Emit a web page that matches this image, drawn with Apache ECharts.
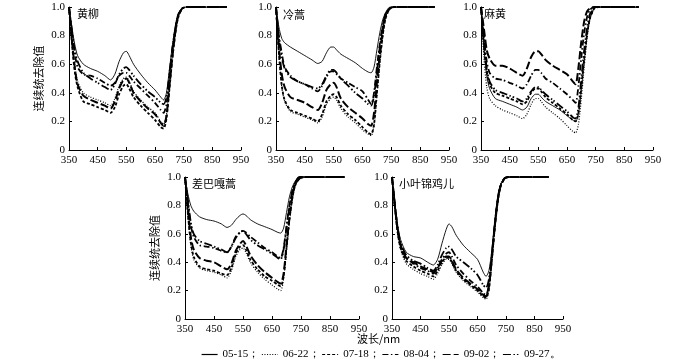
<!DOCTYPE html>
<html>
<head>
<meta charset="utf-8">
<script src="https://cdn.jsdelivr.net/npm/echarts@6/dist/echarts.min.js"></script>
<style>
  html, body { margin: 0; background: #fff; }
  #chart { width: 700px; height: 359px; }
</style>
</head>
<body>
<div id="chart"></div>
<script>
// wavelengths sampled (nm)
const wavelengths = [350, 360, 370, 380, 400, 425, 450, 475, 495, 510, 525, 540, 550, 560, 575,
  600, 625, 650, 670, 680, 690, 700, 710, 720, 730, 745, 760, 800, 850, 900];
const dates = ['05-15', '06-22', '07-18', '08-04', '09-02', '09-27'];
const plantNames = ['黄柳', '冷蒿', '麻黄', '差巴嘎蒿', '小叶锦鸡儿'];
const xTickLabels = ['350', '450', '550', '650', '750', '850', '950'];
const yTickLabels = ['0', '0.2', '0.4', '0.6', '0.8', '1.0'];

// 黄柳
const huangliu0515 = [1.0, 0.86, 0.74, 0.66, 0.60, 0.57, 0.55, 0.52, 0.49, 0.53, 0.62, 0.68, 0.69, 0.66, 0.60, 0.53, 0.47, 0.42, 0.37, 0.35, 0.40, 0.56, 0.72, 0.85, 0.94, 0.99, 1.0, 1.0, 1.0, 1.0];
const huangliu0622 = [1.0, 0.78, 0.60, 0.48, 0.40, 0.37, 0.35, 0.33, 0.31, 0.36, 0.45, 0.50, 0.51, 0.48, 0.41, 0.35, 0.30, 0.26, 0.20, 0.18, 0.25, 0.45, 0.65, 0.82, 0.93, 0.99, 1.0, 1.0, 1.0, 1.0];
const huangliu0718 = [1.0, 0.75, 0.55, 0.44, 0.34, 0.32, 0.30, 0.28, 0.26, 0.30, 0.39, 0.45, 0.46, 0.43, 0.37, 0.31, 0.26, 0.21, 0.16, 0.15, 0.22, 0.42, 0.63, 0.80, 0.92, 0.99, 1.0, 1.0, 1.0, 1.0];
const huangliu0804 = [1.0, 0.82, 0.68, 0.58, 0.53, 0.52, 0.50, 0.47, 0.45, 0.47, 0.52, 0.54, 0.54, 0.52, 0.48, 0.43, 0.38, 0.33, 0.28, 0.26, 0.32, 0.50, 0.69, 0.84, 0.94, 0.99, 1.0, 1.0, 1.0, 1.0];
const huangliu0902 = [1.0, 0.77, 0.58, 0.46, 0.38, 0.35, 0.33, 0.31, 0.29, 0.34, 0.43, 0.49, 0.50, 0.47, 0.40, 0.34, 0.29, 0.25, 0.19, 0.17, 0.24, 0.44, 0.64, 0.81, 0.93, 0.99, 1.0, 1.0, 1.0, 1.0];
const huangliu0927 = [1.0, 0.84, 0.70, 0.62, 0.54, 0.50, 0.47, 0.44, 0.42, 0.46, 0.53, 0.57, 0.58, 0.56, 0.52, 0.46, 0.41, 0.37, 0.33, 0.32, 0.37, 0.53, 0.70, 0.84, 0.94, 0.99, 1.0, 1.0, 1.0, 1.0];

// 冷蒿
const lenghao0515 = [1.0, 0.86, 0.78, 0.75, 0.72, 0.69, 0.66, 0.63, 0.605, 0.62, 0.68, 0.72, 0.72, 0.70, 0.67, 0.64, 0.61, 0.57, 0.545, 0.54, 0.58, 0.70, 0.82, 0.91, 0.96, 1.0, 1.0, 1.0, 1.0, 1.0];
const lenghao0622 = [1.0, 0.67, 0.44, 0.34, 0.27, 0.25, 0.23, 0.21, 0.19, 0.23, 0.32, 0.36, 0.37, 0.35, 0.29, 0.23, 0.19, 0.14, 0.11, 0.10, 0.17, 0.38, 0.60, 0.79, 0.92, 0.99, 1.0, 1.0, 1.0, 1.0];
const lenghao0718 = [1.0, 0.68, 0.45, 0.35, 0.28, 0.26, 0.24, 0.22, 0.20, 0.25, 0.34, 0.38, 0.39, 0.37, 0.31, 0.25, 0.21, 0.16, 0.12, 0.11, 0.18, 0.40, 0.62, 0.80, 0.92, 0.99, 1.0, 1.0, 1.0, 1.0];
const lenghao0804 = [1.0, 0.80, 0.68, 0.58, 0.52, 0.48, 0.46, 0.43, 0.41, 0.45, 0.51, 0.55, 0.55, 0.53, 0.50, 0.47, 0.44, 0.41, 0.35, 0.32, 0.40, 0.58, 0.74, 0.87, 0.95, 0.99, 1.0, 1.0, 1.0, 1.0];
const lenghao0902 = [1.0, 0.72, 0.53, 0.44, 0.37, 0.35, 0.33, 0.30, 0.28, 0.33, 0.42, 0.46, 0.47, 0.44, 0.36, 0.30, 0.26, 0.22, 0.18, 0.17, 0.26, 0.47, 0.67, 0.83, 0.94, 0.99, 1.0, 1.0, 1.0, 1.0];
const lenghao0927 = [1.0, 0.78, 0.65, 0.57, 0.51, 0.48, 0.46, 0.44, 0.43, 0.46, 0.52, 0.56, 0.56, 0.54, 0.50, 0.45, 0.40, 0.36, 0.32, 0.31, 0.38, 0.55, 0.72, 0.86, 0.95, 0.99, 1.0, 1.0, 1.0, 1.0];

// 麻黄
const mahuang0515 = [1.0, 0.72, 0.52, 0.43, 0.36, 0.34, 0.32, 0.30, 0.28, 0.30, 0.36, 0.39, 0.39, 0.37, 0.34, 0.31, 0.28, 0.24, 0.21, 0.20, 0.25, 0.42, 0.62, 0.80, 0.92, 0.99, 1.0, 1.0, 1.0, 1.0];
const mahuang0622 = [1.0, 0.65, 0.44, 0.36, 0.31, 0.28, 0.26, 0.24, 0.22, 0.25, 0.32, 0.36, 0.36, 0.34, 0.30, 0.26, 0.22, 0.17, 0.13, 0.12, 0.18, 0.36, 0.58, 0.78, 0.91, 0.99, 1.0, 1.0, 1.0, 1.0];
const mahuang0718 = [1.0, 0.74, 0.55, 0.46, 0.40, 0.38, 0.36, 0.34, 0.32, 0.34, 0.40, 0.43, 0.43, 0.41, 0.37, 0.33, 0.29, 0.25, 0.21, 0.20, 0.26, 0.44, 0.64, 0.81, 0.92, 0.99, 1.0, 1.0, 1.0, 1.0];
const mahuang0804 = [1.0, 0.80, 0.62, 0.54, 0.50, 0.49, 0.47, 0.45, 0.43, 0.46, 0.52, 0.56, 0.56, 0.54, 0.50, 0.47, 0.43, 0.39, 0.35, 0.33, 0.45, 0.65, 0.82, 0.93, 0.98, 1.0, 1.0, 1.0, 1.0, 1.0];
const mahuang0902 = [1.0, 0.85, 0.70, 0.64, 0.59, 0.59, 0.57, 0.54, 0.52, 0.57, 0.65, 0.69, 0.69, 0.67, 0.63, 0.59, 0.56, 0.53, 0.48, 0.46, 0.58, 0.76, 0.90, 0.97, 0.99, 1.0, 1.0, 1.0, 1.0, 1.0];
const mahuang0927 = [1.0, 0.76, 0.57, 0.48, 0.42, 0.40, 0.38, 0.36, 0.34, 0.36, 0.41, 0.44, 0.44, 0.42, 0.39, 0.35, 0.31, 0.27, 0.23, 0.22, 0.30, 0.50, 0.70, 0.85, 0.95, 0.99, 1.0, 1.0, 1.0, 1.0];

// 差巴嘎蒿
const chabagahao0515 = [1.0, 0.88, 0.80, 0.76, 0.72, 0.70, 0.69, 0.67, 0.645, 0.66, 0.70, 0.73, 0.74, 0.73, 0.70, 0.67, 0.65, 0.63, 0.61, 0.605, 0.64, 0.75, 0.86, 0.93, 0.97, 1.0, 1.0, 1.0, 1.0, 1.0];
const chabagahao0622 = [1.0, 0.72, 0.52, 0.42, 0.36, 0.34, 0.33, 0.31, 0.29, 0.34, 0.44, 0.49, 0.50, 0.47, 0.40, 0.33, 0.28, 0.24, 0.21, 0.20, 0.28, 0.48, 0.68, 0.84, 0.94, 0.99, 1.0, 1.0, 1.0, 1.0];
const chabagahao0718 = [1.0, 0.74, 0.54, 0.44, 0.37, 0.35, 0.34, 0.32, 0.31, 0.36, 0.46, 0.51, 0.52, 0.49, 0.42, 0.35, 0.30, 0.27, 0.24, 0.23, 0.30, 0.50, 0.70, 0.85, 0.94, 0.99, 1.0, 1.0, 1.0, 1.0];
const chabagahao0804 = [1.0, 0.82, 0.66, 0.58, 0.52, 0.51, 0.50, 0.48, 0.47, 0.51, 0.58, 0.61, 0.62, 0.61, 0.58, 0.54, 0.50, 0.47, 0.44, 0.43, 0.50, 0.65, 0.80, 0.90, 0.96, 1.0, 1.0, 1.0, 1.0, 1.0];
const chabagahao0902 = [1.0, 0.78, 0.58, 0.49, 0.43, 0.41, 0.40, 0.37, 0.35, 0.39, 0.48, 0.53, 0.55, 0.52, 0.45, 0.38, 0.33, 0.29, 0.26, 0.25, 0.32, 0.52, 0.71, 0.86, 0.95, 0.99, 1.0, 1.0, 1.0, 1.0];
const chabagahao0927 = [1.0, 0.84, 0.68, 0.60, 0.55, 0.53, 0.51, 0.49, 0.47, 0.51, 0.57, 0.61, 0.62, 0.60, 0.56, 0.52, 0.49, 0.46, 0.43, 0.42, 0.49, 0.64, 0.79, 0.90, 0.96, 1.0, 1.0, 1.0, 1.0, 1.0];

// 小叶锦鸡儿
const xiaoye0515 = [1.0, 0.82, 0.66, 0.56, 0.47, 0.44, 0.43, 0.40, 0.38, 0.42, 0.53, 0.63, 0.67, 0.65, 0.59, 0.52, 0.47, 0.42, 0.33, 0.30, 0.34, 0.48, 0.68, 0.85, 0.94, 0.99, 1.0, 1.0, 1.0, 1.0];
const xiaoye0622 = [1.0, 0.78, 0.60, 0.49, 0.39, 0.35, 0.32, 0.30, 0.28, 0.32, 0.38, 0.42, 0.42, 0.39, 0.33, 0.27, 0.23, 0.19, 0.15, 0.14, 0.20, 0.40, 0.62, 0.80, 0.92, 0.99, 1.0, 1.0, 1.0, 1.0];
const xiaoye0718 = [1.0, 0.79, 0.61, 0.50, 0.41, 0.37, 0.34, 0.32, 0.30, 0.34, 0.40, 0.43, 0.43, 0.40, 0.34, 0.28, 0.24, 0.20, 0.16, 0.15, 0.21, 0.41, 0.63, 0.81, 0.93, 0.99, 1.0, 1.0, 1.0, 1.0];
const xiaoye0804 = [1.0, 0.80, 0.63, 0.52, 0.43, 0.39, 0.36, 0.34, 0.32, 0.36, 0.42, 0.46, 0.47, 0.44, 0.38, 0.32, 0.27, 0.23, 0.18, 0.17, 0.24, 0.43, 0.64, 0.82, 0.93, 0.99, 1.0, 1.0, 1.0, 1.0];
const xiaoye0902 = [1.0, 0.80, 0.62, 0.52, 0.43, 0.40, 0.37, 0.35, 0.33, 0.36, 0.41, 0.44, 0.44, 0.41, 0.35, 0.29, 0.25, 0.21, 0.17, 0.16, 0.23, 0.42, 0.64, 0.82, 0.93, 0.99, 1.0, 1.0, 1.0, 1.0];
const xiaoye0927 = [1.0, 0.81, 0.64, 0.54, 0.45, 0.41, 0.39, 0.36, 0.34, 0.38, 0.45, 0.50, 0.51, 0.49, 0.44, 0.40, 0.36, 0.31, 0.24, 0.22, 0.28, 0.45, 0.66, 0.83, 0.94, 0.99, 1.0, 1.0, 1.0, 1.0];

const panelData = [
  [huangliu0515, huangliu0622, huangliu0718, huangliu0804, huangliu0902, huangliu0927],
  [lenghao0515, lenghao0622, lenghao0718, lenghao0804, lenghao0902, lenghao0927],
  [mahuang0515, mahuang0622, mahuang0718, mahuang0804, mahuang0902, mahuang0927],
  [chabagahao0515, chabagahao0622, chabagahao0718, chabagahao0804, chabagahao0902, chabagahao0927],
  [xiaoye0515, xiaoye0622, xiaoye0718, xiaoye0804, xiaoye0902, xiaoye0927]
];

const chart = echarts.init(document.getElementById('chart'));

const serif = '"Liberation Serif", "Times New Roman", serif';
const cjk = '"Noto Sans CJK SC", sans-serif';

// plot boxes, pixels
const grids = [
  {left: 69, top: 7, width: 172, height: 143},
  {left: 276, top: 7, width: 173, height: 143},
  {left: 481, top: 7, width: 172, height: 143},
  {left: 185, top: 177, width: 174, height: 142},
  {left: 392, top: 177, width: 171, height: 142}
];

// line look per date: solid, dotted, dashed, dash-dot, long dash, dash-dot-dot
const lineLooks = [
  {type: 'solid', width: 0.9},
  {type: [1, 1.6], width: 1.2},
  {type: [3, 2], width: 1.8},
  {type: [6, 2.5, 1.5, 2.5], width: 1.8},
  {type: [8, 3], width: 2},
  {type: [8, 2.5, 1.5, 2, 1.5, 2.5], width: 1.8}
];

const axisText = {color: '#000', fontFamily: serif, fontSize: 11};

const xAxes = grids.map((g, i) => ({
  type: 'value',
  gridIndex: i,
  min: 0,
  max: 600,
  interval: 100,
  axisLine: {lineStyle: {color: '#000', width: 1}},
  axisTick: {inside: true, length: 3, lineStyle: {color: '#000'}},
  axisLabel: Object.assign({margin: 5, formatter: v => xTickLabels[Math.round(v / 100)]}, axisText),
  splitLine: {show: false}
}));

const yAxes = grids.map((g, i) => ({
  type: 'value',
  gridIndex: i,
  min: 0,
  max: 1,
  interval: 0.2,
  name: (i === 0 || i === 3) ? '连续统去除值' : '',
  nameLocation: 'middle',
  nameRotate: 90,
  nameGap: 25,
  nameTextStyle: {color: '#000', fontFamily: cjk, fontSize: 11},
  axisLine: {show: true, lineStyle: {color: '#000', width: 1}},
  axisTick: {show: true, inside: true, length: 3, lineStyle: {color: '#000'}},
  axisLabel: Object.assign({margin: 4, formatter: v => yTickLabels[Math.round(v / 0.2)]}, axisText),
  splitLine: {show: false}
}));

const series = [];
panelData.forEach((group, p) => {
  group.forEach((vals, d) => {
    series.push({
      name: dates[d],
      type: 'line',
      xAxisIndex: p,
      yAxisIndex: p,
      symbol: 'none',
      smooth: 0.25,
      silent: true,
      lineStyle: {color: '#000', width: lineLooks[d].width, type: lineLooks[d].type},
      itemStyle: {color: '#000'},
      data: wavelengths.map((w, k) => [w - 350, vals[k]])
    });
  });
});

const titlePos = [[77, 8], [283, 9], [484, 8], [192, 178], [399, 178]];

const option = {
  animation: false,
  backgroundColor: '#fff',
  grid: grids,
  xAxis: xAxes,
  yAxis: yAxes,
  title: plantNames.map((n, i) => ({
    text: n,
    left: titlePos[i][0],
    top: titlePos[i][1],
    padding: 0,
    textStyle: {color: '#000', fontFamily: cjk, fontSize: 11, fontWeight: 'normal'}
  })),
  legend: {
    data: dates,
    left: 196,
    top: 344,
    itemWidth: 16,
    itemHeight: 8,
    itemGap: 2,
    selectedMode: false,
    itemStyle: {opacity: 0},
    lineStyle: {width: 1.2},
    textStyle: {color: '#000', fontFamily: serif, fontSize: 11},
    formatter: name => name + (name === '09-27' ? '。' : '；')
  },
  graphic: [{
    type: 'text',
    left: 357,
    top: 333,
    style: {text: '波长/nm', fill: '#000', font: '11px "Noto Sans CJK SC"'}
  }],
  series: series
};

chart.setOption(option);
</script>
</body>
</html>
